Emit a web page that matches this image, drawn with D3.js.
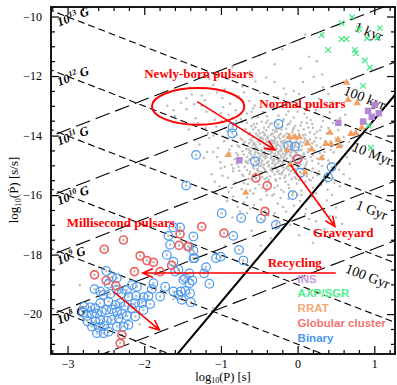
<!DOCTYPE html>
<html><head><meta charset="utf-8">
<script src="https://cdn.jsdelivr.net/npm/d3@7"></script>
<style>body{margin:0;background:#fff}svg{display:block}</style>
</head><body>
<svg id="chart" width="397" height="385"></svg>
<script>
// ---- data: [log10 P (s), log10 Pdot (s/s)] ----
const normalPulsars = [
 [-0.1,-10.9],[0.15,-11.35],[-0.3,-11.6],[-0.62,-11.85],[0.04,-11.75],[0.32,-11.95],[-0.85,-11.7],
 [-1.15,-12.1],[-0.72,-12.35],[-0.41,-12.05],[-0.18,-12.42],[0.07,-12.2],[0.33,-12.38],[-0.95,-12.44],[-0.55,-12.18],[0.21,-12.03],
 [-1.52,-12.9],[-1.38,-12.62],[-1.21,-12.81],[-1.05,-12.55],[-0.88,-12.93],[-0.77,-12.68],[-0.63,-12.84],[-0.49,-12.57],[-0.35,-12.95],[-0.26,-12.71],[-0.12,-12.88],[0.02,-12.6],[0.15,-12.97],[0.28,-12.76],[0.44,-12.9],[-0.98,-12.74],[-0.56,-12.99],
 [-1.6,-13.35],[-1.45,-13.12],[-1.33,-13.42],[-1.19,-13.2],[-1.08,-13.47],[-0.97,-13.05],[-0.9,-13.3],[-0.81,-13.15],[-0.74,-13.44],[-0.66,-13.26],[-0.58,-13.08],[-0.52,-13.38],[-0.45,-13.21],[-0.39,-13.49],[-0.31,-13.11],[-0.25,-13.33],[-0.18,-13.45],[-0.12,-13.18],[-0.05,-13.39],[0.03,-13.02],[0.09,-13.27],[0.17,-13.48],[0.24,-13.14],[0.33,-13.36],[0.42,-13.22],[0.55,-13.41],[-1.25,-13.0],[-0.7,-13.0],
 [-1.42,-13.8],[-1.3,-13.58],[-1.17,-13.92],[-1.06,-13.7],[-0.99,-13.52],[-0.92,-13.86],[-0.85,-13.64],[-0.79,-13.97],[-0.73,-13.55],[-0.68,-13.78],[-0.62,-13.91],[-0.57,-13.62],[-0.51,-13.83],[-0.47,-13.54],[-0.43,-13.99],[-0.38,-13.71],[-0.34,-13.59],[-0.3,-13.88],[-0.26,-13.66],[-0.22,-13.95],[-0.19,-13.51],[-0.15,-13.77],[-0.11,-13.6],[-0.07,-13.9],[-0.03,-13.68],[0.01,-13.84],[0.05,-13.56],[0.1,-13.97],[0.14,-13.73],[0.19,-13.61],[0.25,-13.87],[0.31,-13.7],[0.38,-13.93],[0.46,-13.58],[0.53,-13.81],[0.62,-13.66],[-0.55,-13.72],[-0.28,-13.79],[-0.09,-13.53],[0.22,-13.95],
 [-1.28,-14.3],[-1.15,-14.08],[-1.04,-14.42],[-0.96,-14.19],[-0.89,-14.47],[-0.83,-14.03],[-0.78,-14.33],[-0.72,-14.15],[-0.67,-14.45],[-0.63,-14.26],[-0.59,-14.06],[-0.55,-14.38],[-0.51,-14.21],[-0.48,-14.49],[-0.45,-14.11],[-0.42,-14.31],[-0.39,-14.02],[-0.36,-14.43],[-0.33,-14.24],[-0.3,-14.14],[-0.28,-14.36],[-0.25,-14.05],[-0.22,-14.47],[-0.2,-14.27],[-0.17,-14.17],[-0.14,-14.4],[-0.11,-14.09],[-0.08,-14.3],[-0.05,-14.44],[-0.02,-14.2],[0.02,-14.04],[0.06,-14.35],[0.1,-14.16],[0.14,-14.46],[0.19,-14.25],[0.24,-14.07],[0.3,-14.39],[0.36,-14.19],[0.43,-14.48],[0.5,-14.1],[0.58,-14.33],[0.67,-14.22],[-0.61,-14.41],[-0.37,-14.18],[-0.26,-14.29],[-0.13,-14.06],[-0.04,-14.37],[0.08,-14.23],[-0.47,-14.08],[-0.32,-14.47],
 [-1.22,-14.75],[-1.1,-14.55],[-1.01,-14.9],[-0.93,-14.68],[-0.86,-14.98],[-0.8,-14.59],[-0.75,-14.82],[-0.7,-14.64],[-0.65,-14.93],[-0.61,-14.52],[-0.57,-14.77],[-0.53,-14.96],[-0.5,-14.61],[-0.46,-14.85],[-0.43,-14.54],[-0.4,-14.72],[-0.37,-14.99],[-0.34,-14.58],[-0.31,-14.8],[-0.29,-14.66],[-0.26,-14.91],[-0.23,-14.53],[-0.21,-14.74],[-0.18,-14.87],[-0.15,-14.6],[-0.12,-14.95],[-0.09,-14.69],[-0.06,-14.83],[-0.03,-14.56],[0.01,-14.78],[0.04,-14.97],[0.08,-14.63],[0.12,-14.88],[0.17,-14.71],[0.22,-14.51],[0.27,-14.94],[0.33,-14.67],[0.4,-14.84],[0.47,-14.57],[0.55,-14.9],[0.64,-14.73],[-0.68,-14.87],[-0.48,-14.69],[-0.33,-14.93],[-0.19,-14.62],[-0.07,-14.5],[0.1,-14.79],[-0.56,-14.64],[-0.27,-14.79],
 [-1.12,-15.3],[-1.0,-15.1],[-0.91,-15.42],[-0.84,-15.2],[-0.77,-15.05],[-0.71,-15.36],[-0.66,-15.16],[-0.6,-15.47],[-0.55,-15.27],[-0.5,-15.03],[-0.46,-15.39],[-0.42,-15.18],[-0.38,-15.49],[-0.34,-15.09],[-0.3,-15.31],[-0.27,-15.22],[-0.23,-15.44],[-0.19,-15.06],[-0.16,-15.35],[-0.12,-15.14],[-0.08,-15.46],[-0.04,-15.25],[0.0,-15.08],[0.05,-15.38],[0.1,-15.19],[0.15,-15.48],[0.2,-15.11],[0.26,-15.33],[0.32,-15.02],[0.39,-15.28],[0.46,-15.43],[0.54,-15.15],[-0.63,-15.29],[-0.4,-15.41],[-0.21,-15.3],[-0.06,-15.03],[0.12,-15.37],[-0.52,-15.12],
 [-1.02,-15.7],[-0.9,-15.9],[-0.81,-15.58],[-0.73,-15.8],[-0.65,-15.64],[-0.58,-15.95],[-0.52,-15.53],[-0.46,-15.75],[-0.41,-15.87],[-0.36,-15.6],[-0.31,-15.97],[-0.26,-15.69],[-0.21,-15.83],[-0.16,-15.55],[-0.11,-15.76],[-0.06,-15.92],[-0.01,-15.62],[0.05,-15.85],[0.11,-15.7],[0.17,-15.51],[0.24,-15.94],[0.31,-15.66],[0.39,-15.82],[0.48,-15.59],[-0.55,-15.78],[-0.28,-15.52],[0.0,-15.99],
 [-0.92,-16.2],[-0.78,-16.4],[-0.66,-16.08],[-0.57,-16.33],[-0.48,-16.15],[-0.4,-16.45],[-0.33,-16.02],[-0.26,-16.28],[-0.19,-16.4],[-0.12,-16.12],[-0.05,-16.36],[0.03,-16.2],[0.11,-16.47],[0.19,-16.05],[0.28,-16.31],[0.38,-16.18],[0.5,-16.42],[-0.7,-16.25],[-0.22,-16.1],
 [-0.85,-16.75],[-0.66,-16.6],[-0.52,-16.9],[-0.38,-16.68],[-0.27,-16.95],[-0.15,-16.55],[-0.03,-16.82],[0.1,-16.63],[0.24,-16.88],[0.42,-16.7],[0.58,-16.96],
 [-0.6,-17.2],[-0.35,-17.45],[-0.18,-17.1],[0.02,-17.35],[0.2,-17.6],[0.35,-17.15],[-0.48,-17.7],
 [-0.66,-13.57],[-0.6,-13.69],[-0.53,-13.6],[-0.44,-13.74],[-0.36,-13.63],[-0.29,-13.55],[-0.2,-13.7],[-0.13,-13.64],[-0.05,-13.75],[0.04,-13.66],[0.12,-13.58],[0.2,-13.74],[-0.41,-13.57],[-0.24,-13.76],
 [-0.71,-13.84],[-0.64,-13.96],[-0.58,-13.8],[-0.49,-13.92],[-0.41,-13.82],[-0.35,-13.97],[-0.27,-13.86],[-0.21,-13.8],[-0.14,-13.93],[-0.06,-13.81],[0.02,-13.95],[0.08,-13.79],[0.16,-13.9],[0.29,-13.82],[-0.45,-13.88],[-0.32,-13.81],
 [-0.74,-14.1],[-0.69,-14.22],[-0.62,-14.13],[-0.57,-14.24],[-0.52,-14.01],[-0.46,-14.19],[-0.41,-14.12],[-0.37,-14.25],[-0.31,-14.03],[-0.27,-14.21],[-0.23,-14.11],[-0.19,-14.04],[-0.15,-14.23],[-0.1,-14.14],[-0.06,-14.01],[-0.01,-14.12],[0.04,-14.22],[0.09,-14.08],[0.16,-14.13],[0.22,-14.2],[-0.34,-14.16],[-0.2,-14.19],[-0.49,-14.1],[0.0,-14.24],
 [-0.76,-14.38],[-0.7,-14.29],[-0.64,-14.47],[-0.58,-14.31],[-0.53,-14.43],[-0.49,-14.28],[-0.44,-14.4],[-0.39,-14.33],[-0.35,-14.49],[-0.3,-14.27],[-0.27,-14.44],[-0.23,-14.34],[-0.19,-14.26],[-0.16,-14.48],[-0.12,-14.36],[-0.08,-14.45],[-0.04,-14.27],[0.0,-14.39],[0.05,-14.48],[0.11,-14.3],[0.18,-14.42],[0.25,-14.33],[-0.41,-14.46],[-0.21,-14.41],
 [-0.78,-14.66],[-0.72,-14.53],[-0.66,-14.71],[-0.61,-14.62],[-0.55,-14.55],[-0.51,-14.73],[-0.46,-14.61],[-0.42,-14.68],[-0.38,-14.52],[-0.34,-14.7],[-0.3,-14.6],[-0.26,-14.54],[-0.22,-14.67],[-0.18,-14.74],[-0.14,-14.57],[-0.1,-14.64],[-0.06,-14.72],[-0.01,-14.58],[0.05,-14.69],[0.13,-14.56],[0.2,-14.65],[0.29,-14.58],[-0.36,-14.63],[-0.12,-14.51],
 [-0.79,-14.95],[-0.73,-14.78],[-0.67,-14.89],[-0.62,-14.8],[-0.58,-14.97],[-0.52,-14.84],[-0.47,-14.92],[-0.42,-14.77],[-0.38,-14.87],[-0.33,-14.82],[-0.29,-14.96],[-0.25,-14.79],[-0.2,-14.9],[-0.16,-14.81],[-0.11,-14.89],[-0.07,-14.76],[-0.02,-14.93],[0.04,-14.82],[0.11,-14.96],[0.19,-14.85],[0.26,-14.77],[-0.44,-14.98],[-0.24,-14.86],
 [-0.76,-15.18],[-0.69,-15.06],[-0.62,-15.22],[-0.57,-15.1],[-0.51,-15.2],[-0.45,-15.07],[-0.4,-15.24],[-0.35,-15.15],[-0.3,-15.04],[-0.25,-15.17],[-0.2,-15.23],[-0.15,-15.09],[-0.09,-15.2],[-0.03,-15.12],[0.03,-15.22],[0.1,-15.04],[0.18,-15.21],[-0.47,-15.22],
 [-0.72,-15.32],[-0.64,-15.45],[-0.56,-15.38],[-0.48,-15.29],[-0.43,-15.46],[-0.36,-15.37],[-0.29,-15.48],[-0.24,-15.28],[-0.17,-15.43],[-0.11,-15.31],[-0.04,-15.4],[0.02,-15.49],[0.09,-15.3],[0.2,-15.42],
 [-1.4,-12.4],[-1.1,-12.3],[-0.9,-12.1],[-0.3,-12.2],[-0.05,-12.5],[0.4,-12.6],[-1.7,-13.0],[-1.5,-13.6],[-1.35,-12.95],[-1.0,-13.25],[-0.85,-13.4],[-0.6,-13.2],[-0.35,-13.05],[0.0,-13.2],[0.3,-13.05],[0.5,-12.95],[0.62,-13.3],[-1.2,-13.75],[-1.1,-14.0],[-1.35,-14.15],[-1.18,-14.55],[-1.05,-14.72],[-0.98,-15.35],[-0.95,-15.05],[-1.08,-15.55],[-0.86,-15.75],[-0.84,-16.05],[0.6,-14.05],[0.72,-14.5],[0.68,-14.95],[0.6,-15.3],[0.55,-15.7],[0.45,-16.0],[0.35,-16.55],[0.5,-16.75],[0.15,-16.8],[-0.1,-17.0],[-0.45,-16.85],[-0.75,-16.55],[-0.3,-16.6],[0.05,-16.0],[-0.62,-16.45],[0.68,-15.45],[0.75,-14.2],[0.52,-13.55],[-0.15,-12.6],[-0.7,-12.55],[-1.25,-12.65],[-1.45,-12.75],[-1.62,-13.15],[-0.2,-11.1],[0.1,-10.6],[0.25,-11.5],[-0.5,-11.3],
 [-0.54,-13.93],[-0.48,-14.04],[-0.43,-13.95],[-0.39,-14.07],[-0.33,-13.94],[-0.29,-14.08],[-0.24,-13.98],[-0.17,-14.01],[-0.11,-13.96],[-0.03,-14.06],[0.07,-13.99],
 [-0.6,-14.18],[-0.55,-14.3],[-0.5,-14.16],[-0.44,-14.26],[-0.4,-14.21],[-0.35,-14.35],[-0.31,-14.19],[-0.26,-14.32],[-0.22,-14.22],[-0.18,-14.35],[-0.13,-14.28],[-0.09,-14.2],[-0.03,-14.32],[0.03,-14.28],[0.12,-14.22],
 [-0.63,-14.57],[-0.57,-14.46],[-0.52,-14.58],[-0.47,-14.5],[-0.43,-14.62],[-0.39,-14.42],[-0.34,-14.55],[-0.29,-14.45],[-0.25,-14.62],[-0.21,-14.5],[-0.16,-14.66],[-0.13,-14.45],[-0.08,-14.56],[-0.03,-14.65],[0.02,-14.49],[0.08,-14.6],
 [-0.64,-14.83],[-0.59,-14.7],[-0.54,-14.88],[-0.49,-14.78],[-0.44,-14.71],[-0.4,-14.92],[-0.35,-14.76],[-0.31,-14.86],[-0.27,-14.71],[-0.23,-14.83],[-0.19,-14.97],[-0.14,-14.77],[-0.1,-14.92],[-0.05,-14.79],[0.01,-14.88],[0.07,-14.74],
 [-0.58,-15.05],[-0.53,-15.15],[-0.48,-15.01],[-0.43,-15.12],[-0.38,-15.04],[-0.33,-15.21],[-0.28,-15.1],[-0.22,-15.0],[-0.18,-15.15],[-0.13,-15.04],[-0.07,-15.16],[0.0,-15.01],[0.06,-15.13],
 [-0.9,-14.1],[-0.86,-14.35],[-0.82,-14.8],[-0.88,-14.6],[-0.84,-15.1],[0.3,-14.1],[0.35,-14.55],[0.42,-14.95],[0.28,-15.2],[0.38,-15.55],[0.33,-13.5],[0.4,-13.75],[-0.95,-13.75],[-0.8,-13.5],[-0.6,-13.42],[-0.4,-13.35],[-0.15,-13.3],[0.12,-13.4],
 [-0.7,-15.6],[-0.5,-15.65],[-0.3,-15.75],[-0.12,-15.65],[0.1,-15.55],[-0.62,-15.85],[-0.4,-16.0],[-0.18,-15.9],[0.2,-15.75],[-0.02,-15.45],
 [-2.84,-19.02],[-2.06,-20.34],[-1.62,-19.5],[-1.35,-17.9],[-0.95,-17.7],[-2.3,-17.2],[-1.1,-19.8]
];
const binaryPulsars = [
 [-0.250,-13.61],[-0.849,-13.72],[-0.852,-13.93],[-0.122,-14.34],[-0.035,-14.37],[-0.556,-14.87],[0.000,-14.79],[0.036,-15.25],[0.443,-15.06],[0.398,-15.40],[-0.065,-16.00],[-1.324,-14.65],[-1.454,-15.68],
 [-0.990,-16.61],[-0.736,-16.77],[-0.478,-16.79],[-0.283,-17.00],[-0.839,-17.37],[-0.764,-17.84],[-0.708,-18.20],[-1.064,-18.12],[-1.003,-18.07],[-1.194,-18.42],[-1.220,-18.63],[-1.151,-18.98],
 [-1.685,-17.37],[-1.359,-17.39],[-1.359,-18.12],[-1.555,-18.51],[-1.598,-18.57],[-1.411,-18.63],[-1.490,-18.85],[-1.372,-18.87],[-1.728,-19.08],[-1.620,-19.24],[-1.523,-19.24],[-1.467,-19.22],[-1.402,-19.30],[-1.793,-19.41],[-1.393,-19.60],[-1.555,-19.35],
 [-1.533,-17.09],[-1.663,-17.67],[-1.415,-17.73],[-1.359,-17.87],[-1.346,-18.12],[-1.706,-18.01],[-1.620,-18.24],[-1.467,-18.79],[-1.411,-18.96],[-1.510,-19.52],[-1.620,-17.08],
 [-2.496,-18.55],[-2.422,-18.76],[-2.357,-18.79],[-2.466,-18.98],[-2.648,-19.16],[-2.574,-19.24],[-2.531,-19.35],[-2.444,-19.32],[-2.357,-19.19],[-2.292,-19.30],[-2.227,-19.19],[-2.206,-19.41],[-2.105,-19.39],[-2.010,-19.43],[-1.945,-19.39],[-1.901,-19.16],[-1.880,-18.96],
 [-2.031,-19.63],[-2.118,-19.63],[-2.161,-19.80],[-2.249,-19.72],[-2.314,-19.63],[-2.379,-19.69],[-2.466,-19.58],[-2.574,-19.63],[-2.639,-19.80],[-2.704,-19.77],[-2.783,-19.75],[-2.799,-19.95],[-2.747,-20.06],[-2.682,-19.99],[-2.617,-19.99],[-2.552,-19.92],[-2.496,-19.86],[-2.422,-19.84],[-2.357,-19.92],[-2.292,-19.99],[-2.227,-20.06],
 [-2.336,-20.14],[-2.422,-20.19],[-2.487,-20.22],[-2.574,-20.19],[-2.639,-20.25],[-2.740,-20.25],[-2.682,-20.42],[-2.596,-20.44],[-2.522,-20.40],[-2.466,-20.59],[-2.531,-20.64],[-2.617,-20.64],[-2.357,-20.42],[-2.271,-20.42],[-2.206,-20.36],
 [-2.161,-19.02],[-2.096,-19.08],[-2.118,-20.08],[-2.010,-19.86],[-1.923,-19.66]
];
const globularClusterPulsars = [
 [-2.271,-17.51],[-2.522,-17.82],[-2.053,-18.04],[-1.966,-18.20],[-1.880,-18.26],[-2.128,-18.57],[-2.648,-18.68],[-2.496,-18.87],[-2.370,-19.05],
 [-1.533,-17.31],[-1.546,-17.69],[-1.432,-17.73],[-1.643,-18.36],[-1.793,-18.57],[-2.292,-20.70],[-2.314,-20.98],
 [-1.250,-17.06],[-0.960,-17.28],[-0.426,-16.55],[-0.543,-15.43],[-0.396,-15.68],[0.000,-14.79]
];
const rrats = [
 [0.638,-12.22],[0.659,-12.80],[0.776,-12.91],[0.421,-13.90],[-0.109,-14.05],[-0.035,-14.05],[0.021,-14.05],[0.130,-14.26],[0.368,-14.28],[0.434,-14.28],[0.529,-14.14],
 [0.694,-13.94],[0.759,-13.92],[0.542,-14.35],[-0.135,-14.50],[0.313,-14.76],[0.099,-15.24],[-0.904,-14.65],[-0.677,-15.92],[-0.091,-14.98],[0.182,-14.46],[0.837,-13.73]
];
const axpSgr = [
 [0.711,-10.02],[0.573,-10.22],[1.072,-10.39],[0.802,-10.42],[0.313,-10.62],[0.573,-10.76],[0.638,-10.76],[0.906,-10.73],[1.042,-10.71],
 [0.398,-11.12],[0.746,-11.12],[0.759,-11.23],[0.876,-11.48],[0.941,-11.71],[0.854,-12.33],[0.928,-13.67],[0.954,-14.41]
];
const insStars = [
 [1.006,-12.97],[0.919,-13.17],[1.059,-13.25],[0.854,-13.53],[0.967,-13.37],[0.531,-13.57],[-0.760,-14.83]
];

// constant-field lines (log10 B in gauss) and characteristic-age lines (years)
const fieldLines = [13, 12, 11, 10, 9, 8];
const ageLines = [1e3, 1e5, 1e7, 1e9, 1e11];
const ageLabels = ["1 kyr", "100 kyr", "10 Myr", "1 Gyr", "100 Gyr"];
const ageLabelP = [0.73, 0.59, 0.70, 0.75, 0.61];
const deathLine = [[-1.60, -21.44], [1.30, -12.54]];

// axis ticks
const xTicks = [-3, -2, -1, 0, 1];
const yTicks = [-20, -18, -16, -14, -12, -10];

// annotations
const regionLabels = [
 {text: "Newly-born pulsars", p: -2.00, pd: -12.07},
 {text: "Normal pulsars", p: -0.50, pd: -13.08},
 {text: "Millisecond pulsars", p: -3.01, pd: -17.08},
 {text: "Graveyard", p: 0.20, pd: -17.40},
 {text: "Recycling", p: -0.39, pd: -18.40}
];
const arrows = [
 [[-1.31, -12.86], [-0.296, -14.48]],
 [[-0.094, -14.98], [0.486, -17.05]],
 [[0.497, -18.62], [-2.018, -18.62]],
 [[-2.401, -19.24], [-1.802, -20.53]]
];
const birthEllipse = {p: -1.297, pd: -13.02, dp: 0.603, dpd: 0.615};
const legendItems = [
 {text: "INS", color: "#c49be0"},
 {text: "AXP/SGR", color: "#4cf08a"},
 {text: "RRAT", color: "#f4a872"},
 {text: "Globular cluster", color: "#f27474"},
 {text: "Binary", color: "#4a98f0"}
];

// ---- layout ----
const plot = {left: 51, right: 395, top: 7, bottom: 354};
const x = d3.scaleLinear().domain([-3.216, 1.27]).range([plot.left, plot.right]);
const y = d3.scaleLinear().domain([-21.34, -9.68]).range([plot.bottom, plot.top]);
const serif = "'Liberation Serif','DejaVu Serif',serif";
const sans = "'Liberation Sans','DejaVu Sans',sans-serif";

const svg = d3.select("#chart");
svg.append("defs").append("clipPath").attr("id", "plotClip")
  .append("rect").attr("x", plot.left).attr("y", plot.top)
  .attr("width", plot.right - plot.left).attr("height", plot.bottom - plot.top);
const g = svg.append("g").attr("clip-path", "url(#plotClip)");
const line = d3.line().x(d => x(d[0])).y(d => y(d[1]));
const pRange = [-3.4, 1.4];

// grey dots: all radio pulsars (binary / cluster ones sit under their rings)
const allDots = normalPulsars.concat(binaryPulsars, globularClusterPulsars);
g.append("g").selectAll("circle").data(allDots).join("circle")
  .attr("cx", d => x(d[0])).attr("cy", d => y(d[1])).attr("r", 1.25)
  .attr("fill", "#bdbdbd");

// B = 3.2e19 sqrt(P Pdot)  ->  log Pdot = 2 log B - 39.01 - log P
fieldLines.forEach(b => {
  const f = p => 2 * b - 39.0103 - p;
  g.append("path").attr("d", line(pRange.map(p => [p, f(p)])))
    .attr("fill", "none").attr("stroke", "#000").attr("stroke-width", 1.1)
    .attr("stroke-dasharray", "7,4");
});
// tau = P / (2 Pdot)
ageLines.forEach(t => {
  const k = Math.log10(2 * t * 3.156e7);
  g.append("path").attr("d", line(pRange.map(p => [p, p - k])))
    .attr("fill", "none").attr("stroke", "#000").attr("stroke-width", 1.1)
    .attr("stroke-dasharray", "15,6");
});
// death line
g.append("path").attr("d", line(deathLine)).attr("fill", "none")
  .attr("stroke", "#000").attr("stroke-width", 2);

// line labels
const slopeDeg = Math.atan((y(-10) - y(-11)) / (x(1) - x(0))) * 180 / Math.PI;
fieldLines.forEach(b => {
  const p0 = -3.11, px = x(p0), py = y(2 * b - 39.0103 - p0) + 13;
  const t = g.append("text").attr("x", px).attr("y", py)
    .attr("transform", `rotate(${slopeDeg},${px},${py})`)
    .attr("font-family", serif).attr("font-style", "italic").attr("font-weight", "bold")
    .attr("font-size", 12.5).attr("fill", "#000");
  t.append("tspan").text("10");
  t.append("tspan").attr("font-size", 8).attr("dx", 0.5).attr("dy", -5).text(String(b));
  t.append("tspan").attr("dy", 5).text(" G");
});
ageLines.forEach((tau, i) => {
  const k = Math.log10(2 * tau * 3.156e7);
  const p0 = ageLabelP[i], px = x(p0), py = y(p0 - k) + 12;
  g.append("text").attr("x", px).attr("y", py)
    .attr("transform", `rotate(${-slopeDeg},${px},${py})`)
    .attr("font-family", serif).attr("font-size", 14).attr("fill", "#000")
    .text(ageLabels[i]);
});

// binaries and globular-cluster pulsars
g.append("g").selectAll("circle").data(binaryPulsars).join("circle")
  .attr("cx", d => x(d[0])).attr("cy", d => y(d[1])).attr("r", 4.3)
  .attr("fill", "none").attr("stroke", "#4a98f0").attr("stroke-width", 1.2);
g.append("g").selectAll("circle").data(globularClusterPulsars).join("circle")
  .attr("cx", d => x(d[0])).attr("cy", d => y(d[1])).attr("r", 4.0)
  .attr("fill", "none").attr("stroke", "#ee6464").attr("stroke-width", 1.7);
// RRATs
g.append("g").selectAll("path").data(rrats).join("path")
  .attr("d", d3.symbol(d3.symbolTriangle, 24))
  .attr("transform", d => `translate(${x(d[0])},${y(d[1])})`)
  .attr("fill", "#f4a060");
// INS
g.append("g").selectAll("path").data(insStars).join("path")
  .attr("d", d3.symbol(d3.symbolSquare, 42))
  .attr("transform", d => `translate(${x(d[0])},${y(d[1])})`)
  .attr("fill", "#b487d2");
// AXP/SGR crosses
g.append("g").selectAll("path").data(axpSgr).join("path")
  .attr("d", "M-2.8,-2.8L2.8,2.8M-2.8,2.8L2.8,-2.8")
  .attr("transform", d => `translate(${x(d[0])},${y(d[1])})`)
  .attr("stroke", "#3ee87c").attr("stroke-width", 1.2).attr("fill", "none");

// evolutionary annotations
const red = "#ff0000";
g.append("ellipse")
  .attr("cx", x(birthEllipse.p)).attr("cy", y(birthEllipse.pd))
  .attr("rx", x(birthEllipse.p + birthEllipse.dp) - x(birthEllipse.p))
  .attr("ry", y(birthEllipse.pd - birthEllipse.dpd) - y(birthEllipse.pd))
  .attr("fill", "none").attr("stroke", red).attr("stroke-width", 2);
arrows.forEach(([a, b]) => {
  const x0 = x(a[0]), y0 = y(a[1]), x1 = x(b[0]), y1 = y(b[1]);
  const ang = Math.atan2(y1 - y0, x1 - x0), L = 11, s = 0.42;
  const d = `M${x0},${y0}L${x1},${y1}` +
    `M${x1 - L * Math.cos(ang - s)},${y1 - L * Math.sin(ang - s)}L${x1},${y1}` +
    `L${x1 - L * Math.cos(ang + s)},${y1 - L * Math.sin(ang + s)}`;
  g.append("path").attr("d", d).attr("fill", "none")
    .attr("stroke", red).attr("stroke-width", 1.6);
});
regionLabels.forEach(l => {
  g.append("text").attr("x", x(l.p)).attr("y", y(l.pd))
    .attr("font-family", serif).attr("font-weight", "bold").attr("font-size", 13)
    .attr("fill", red).text(l.text);
});

// legend
legendItems.forEach((it, i) => {
  svg.append("text").attr("x", x(0)).attr("y", 282.7 + i * 14.7)
    .attr("font-family", sans).attr("font-weight", "bold").attr("font-size", 11.5)
    .attr("fill", it.color).text(it.text);
});

// ---- axes ----
const fmt = d3.format("d");
const xMinor = d3.range(-32, 13, 2).map(v => v / 10).filter(v => !Number.isInteger(v));
const yMinor = d3.range(-42, -19, 1).map(v => v / 2).filter(v => v % 2 !== 0);
function styleAxis(sel) {
  sel.select(".domain").remove();
  sel.selectAll("line").attr("stroke", "#000").attr("stroke-width", 1.2);
  sel.selectAll("text").attr("font-family", serif).attr("font-size", 12).attr("fill", "#000");
}
svg.append("g").attr("transform", `translate(0,${plot.bottom})`)
  .call(d3.axisBottom(x).tickValues(xTicks).tickSize(-8).tickPadding(5).tickFormat(fmt)).call(styleAxis);
svg.append("g").attr("transform", `translate(0,${plot.bottom})`)
  .call(d3.axisBottom(x).tickValues(xMinor).tickSize(-4).tickFormat("")).call(styleAxis);
svg.append("g").attr("transform", `translate(0,${plot.top})`)
  .call(d3.axisTop(x).tickValues(xTicks).tickSize(-8).tickFormat("")).call(styleAxis);
svg.append("g").attr("transform", `translate(0,${plot.top})`)
  .call(d3.axisTop(x).tickValues(xMinor).tickSize(-4).tickFormat("")).call(styleAxis);
svg.append("g").attr("transform", `translate(${plot.left},0)`)
  .call(d3.axisLeft(y).tickValues(yTicks).tickSize(-8).tickPadding(9).tickFormat(fmt)).call(styleAxis);
svg.append("g").attr("transform", `translate(${plot.left},0)`)
  .call(d3.axisLeft(y).tickValues(yMinor).tickSize(-4).tickFormat("")).call(styleAxis);
svg.append("g").attr("transform", `translate(${plot.right},0)`)
  .call(d3.axisRight(y).tickValues(yTicks).tickSize(-8).tickFormat("")).call(styleAxis);
svg.append("g").attr("transform", `translate(${plot.right},0)`)
  .call(d3.axisRight(y).tickValues(yMinor).tickSize(-4).tickFormat("")).call(styleAxis);

svg.append("rect").attr("x", plot.left).attr("y", plot.top)
  .attr("width", plot.right - plot.left).attr("height", plot.bottom - plot.top)
  .attr("fill", "none").attr("stroke", "#000").attr("stroke-width", 1.8);

// axis titles
const xt = svg.append("text").attr("x", (plot.left + plot.right) / 2).attr("y", 380.5)
  .attr("text-anchor", "middle").attr("font-family", serif).attr("font-size", 12.5).attr("fill", "#000");
xt.append("tspan").text("log");
xt.append("tspan").attr("font-size", 8).attr("dy", 2.5).text("10");
xt.append("tspan").attr("dy", -2.5).text("(P) [s]");
const yt = svg.append("text").attr("transform", "translate(18,190) rotate(-90)")
  .attr("text-anchor", "middle").attr("font-family", serif).attr("font-size", 13).attr("fill", "#000");
yt.append("tspan").text("log");
yt.append("tspan").attr("font-size", 8.5).attr("dy", 3).text("10");
yt.append("tspan").attr("dy", -3).text("(\u1E56) [s/s]");
</script>
</body></html>
